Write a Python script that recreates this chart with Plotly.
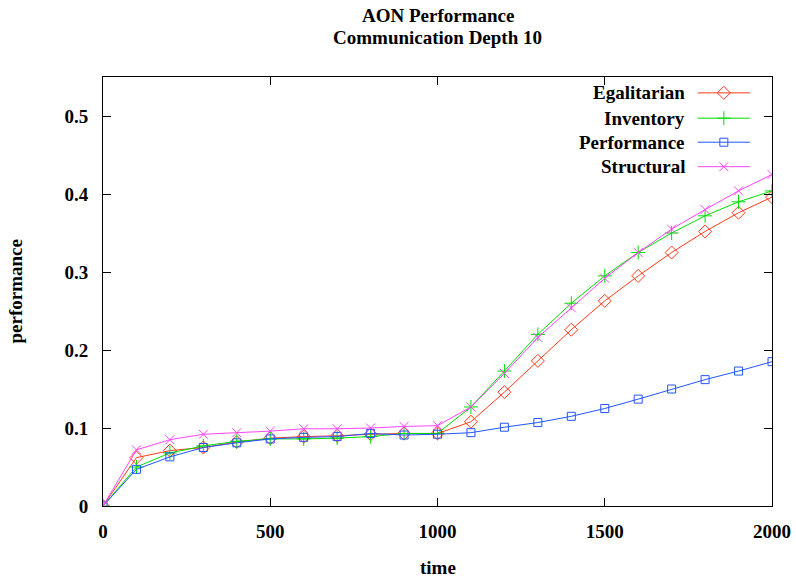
import plotly.graph_objects as go

time = [0, 100, 200, 300, 400, 500, 600, 700, 800, 900, 1000,
        1100, 1200, 1300, 1400, 1500, 1600, 1700, 1800, 1900, 2000]
egalitarian = [0, 0.062, 0.071, 0.075, 0.082, 0.087, 0.089, 0.090, 0.092, 0.093, 0.093,
               0.108, 0.146, 0.186, 0.226, 0.263, 0.295, 0.325, 0.352, 0.376, 0.396]
inventory = [0, 0.050, 0.068, 0.077, 0.083, 0.086, 0.086, 0.087, 0.089, 0.093, 0.093,
             0.127, 0.173, 0.220, 0.260, 0.295, 0.325, 0.350, 0.372, 0.390, 0.404]
performance = [0, 0.047, 0.063, 0.075, 0.081, 0.086, 0.088, 0.089, 0.093, 0.091, 0.092,
               0.094, 0.101, 0.107, 0.115, 0.125, 0.137, 0.150, 0.162, 0.173, 0.185]
structural = [0, 0.072, 0.085, 0.092, 0.094, 0.096, 0.099, 0.099, 0.100, 0.102, 0.103,
              0.127, 0.170, 0.216, 0.254, 0.292, 0.325, 0.355, 0.380, 0.404, 0.425]

names = ["Egalitarian", "Inventory", "Performance", "Structural"]
series = [egalitarian, inventory, performance, structural]
colors = ["#ff3a1a", "#00dd00", "#2255ff", "#ff44ff"]
symbols = ["diamond-open", "cross-thin-open", "square-open", "x-thin-open"]
sizes = [10, 10, 8, 9]

x_ticks = [0, 500, 1000, 1500, 2000]
y_ticks = [0, 0.1, 0.2, 0.3, 0.4, 0.5]
y_ticklabels = ["0", "0.1", "0.2", "0.3", "0.4", "0.5"]

title_lines = ["AON Performance", "Communication Depth 10"]

FONT = "Liberation Serif"
FS = 19

fig = go.Figure()
for nm, ys, c, s, sz in zip(names, series, colors, symbols, sizes):
    fig.add_trace(go.Scatter(
        x=time, y=ys, name=nm, mode="lines+markers",
        line=dict(color=c, width=1),
        marker=dict(symbol=s, size=sz, color=c, line=dict(color=c, width=1)),
        showlegend=False))

# manual legend (gnuplot style: text left, sample right) on an overlay axis
leg_y = [0.963, 0.904, 0.848, 0.791]
for nm, c, s, sz, yy in zip(names, colors, symbols, sizes, leg_y):
    fig.add_trace(go.Scatter(
        x=[0.889, 0.967], y=[yy, yy], mode="lines", line=dict(color=c, width=1),
        xaxis="x2", yaxis="y2", showlegend=False, hoverinfo="skip"))
    fig.add_trace(go.Scatter(
        x=[0.928], y=[yy], mode="markers",
        marker=dict(symbol=s, size=sz, color=c, line=dict(color=c, width=1)),
        xaxis="x2", yaxis="y2", showlegend=False, hoverinfo="skip"))
    fig.add_annotation(x=0.873, y=yy, xref="paper", yref="paper", text="<b>%s</b>" % nm,
                       showarrow=False, xanchor="right", yanchor="middle",
                       font=dict(family=FONT, size=FS, color="black"))

axis_common = dict(showline=True, linecolor="black", linewidth=1, mirror="allticks",
                   ticks="inside", ticklen=8, tickcolor="black", showgrid=False,
                   zeroline=False, automargin=False,
                   tickfont=dict(family=FONT, size=FS, color="black", weight="bold"))

fig.update_layout(
    width=796, height=579,
    margin=dict(l=103, r=24, t=77, b=73),
    paper_bgcolor="white", plot_bgcolor="white",
    xaxis=dict(range=[0, 2000], tickvals=x_ticks, ticklabelstandoff=8, **axis_common),
    yaxis=dict(range=[0, 0.55], tickvals=y_ticks, ticktext=y_ticklabels,
               ticklabelstandoff=10, **axis_common),
    xaxis2=dict(range=[0, 1], overlaying="x", visible=False),
    yaxis2=dict(range=[0, 1], overlaying="y", visible=False),
    showlegend=False,
)

for txt, shift in zip(title_lines, [62, 40]):
    fig.add_annotation(x=0.5, y=1, xref="paper", yref="paper", yshift=shift,
                       text="<b>%s</b>" % txt, showarrow=False,
                       xanchor="center", yanchor="middle",
                       font=dict(family=FONT, size=FS, color="black"))

fig.add_annotation(x=0.5, y=0, xref="paper", yref="paper", yshift=-61,
                   text="<b>time</b>", showarrow=False, yanchor="middle",
                   font=dict(family=FONT, size=FS, color="black"))
fig.add_annotation(x=0, y=0.5, xref="paper", yref="paper", xshift=-88,
                   text="<b>performance</b>", showarrow=False, textangle=-90,
                   xanchor="center", yanchor="middle",
                   font=dict(family=FONT, size=FS, color="black"))

fig.write_html("out.html")
